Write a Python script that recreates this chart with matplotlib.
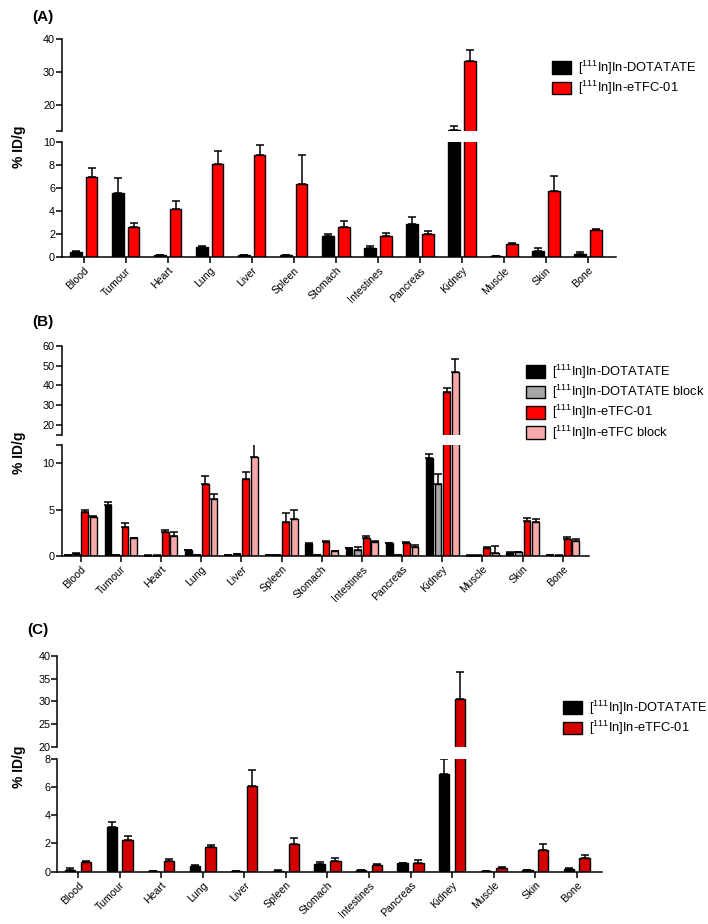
import matplotlib
matplotlib.use("Agg")
import matplotlib.pyplot as plt
import numpy as np
from matplotlib.patches import Patch

plt.rcParams['font.family'] = ['Liberation Sans', 'DejaVu Sans']
plt.rcParams['mathtext.fontset'] = 'custom'
plt.rcParams['mathtext.rm'] = 'Liberation Sans'
plt.rcParams['mathtext.default'] = 'regular'

# 장기 이름 (x축)
organs = ['Blood', 'Tumour', 'Heart', 'Lung', 'Liver', 'Spleen', 'Stomach',
          'Intestines', 'Pancreas', 'Kidney', 'Muscle', 'Skin', 'Bone']

# (A) 데이터
a_dotatate = [0.40, 5.55, 0.15, 0.87, 0.15, 0.15, 1.85, 0.75, 2.90, 12.35, 0.05, 0.52, 0.26]
a_dotatate_err = [0.15, 1.30, 0.05, 0.08, 0.04, 0.04, 0.18, 0.23, 0.60, 1.20, 0.02, 0.23, 0.14]
a_etfc = [6.95, 2.57, 4.15, 8.09, 8.87, 6.32, 2.64, 1.85, 1.97, 33.3, 1.10, 5.74, 2.32]
a_etfc_err = [0.78, 0.36, 0.75, 1.15, 0.90, 2.52, 0.52, 0.26, 0.29, 3.4, 0.15, 1.30, 0.14]

# (B) 데이터
b_dotatate = [0.03, 5.48, 0.02, 0.58, 0.10, 0.05, 1.27, 0.80, 1.35, 10.59, 0.02, 0.30, 0.05]
b_dotatate_err = [0.02, 0.32, 0.01, 0.07, 0.03, 0.02, 0.08, 0.05, 0.06, 0.39, 0.01, 0.05, 0.02]
b_dotatate_block = [0.20, 0.10, 0.02, 0.05, 0.15, 0.05, 0.05, 0.59, 0.05, 7.79, 0.02, 0.35, 0.02]
b_dotatate_block_err = [0.10, 0.03, 0.01, 0.02, 0.04, 0.02, 0.02, 0.39, 0.02, 1.06, 0.01, 0.10, 0.01]
b_etfc = [4.75, 3.08, 2.58, 7.72, 8.34, 3.63, 1.52, 1.89, 1.35, 36.6, 0.80, 3.80, 1.78]
b_etfc_err = [0.25, 0.42, 0.22, 0.87, 0.76, 1.01, 0.08, 0.21, 0.10, 2.0, 0.10, 0.33, 0.22]
b_etfc_block = [4.20, 1.89, 2.17, 6.13, 10.65, 4.02, 0.50, 1.52, 0.98, 46.75, 0.33, 3.63, 1.56]
b_etfc_block_err = [0.10, 0.06, 0.43, 0.54, 1.60, 0.88, 0.05, 0.08, 0.22, 6.45, 0.76, 0.39, 0.22]

# (C) 데이터
c_dotatate = [0.14, 3.20, 0.02, 0.43, 0.05, 0.07, 0.52, 0.12, 0.61, 6.94, 0.02, 0.12, 0.19]
c_dotatate_err = [0.14, 0.33, 0.01, 0.05, 0.02, 0.02, 0.14, 0.03, 0.04, 1.01, 0.01, 0.03, 0.04]
c_etfc = [0.66, 2.22, 0.75, 1.77, 6.05, 1.93, 0.78, 0.45, 0.63, 30.6, 0.28, 1.55, 0.99]
c_etfc_err = [0.09, 0.32, 0.12, 0.14, 1.13, 0.43, 0.21, 0.09, 0.22, 5.96, 0.07, 0.38, 0.21]

lab_dot = r'[$^{111}$In]In-DOTATATE'
lab_dot_blk = r'[$^{111}$In]In-DOTATATE block'
lab_etfc = r'[$^{111}$In]In-eTFC-01'
lab_etfc_blk = r'[$^{111}$In]In-eTFC block'

fig = plt.figure(figsize=(7.08, 9.24), dpi=100)
W, H = 708.0, 924.0


def px_axes(x0, x1, ytop, ybot):
    return fig.add_axes([x0 / W, 1 - ybot / H, (x1 - x0) / W, (ybot - ytop) / H])


def panel(x0, x1, up, lo, series, colors, offsets, width,
          xlim, up_lim, up_ticks, up_labels, lo_lim, lo_ticks, lo_labels):
    ax_up = px_axes(x0, x1, up[0], up[1])
    ax_lo = px_axes(x0, x1, lo[0], lo[1])
    x = np.arange(len(organs))
    for ax in (ax_up, ax_lo):
        for (vals, errs), col, off in zip(series, colors, offsets):
            ax.bar(x + off, vals, width, color=col, edgecolor='black', linewidth=1.0, zorder=2)
            ax.errorbar(x + off, vals, yerr=[np.zeros(len(vals)), errs], fmt='none',
                        ecolor='black', elinewidth=1.1, capsize=2.6, capthick=1.1, zorder=3)
        ax.set_xlim(*xlim)
        ax.spines['top'].set_visible(False)
        ax.spines['right'].set_visible(False)
        ax.spines['left'].set_linewidth(1.1)
        ax.spines['bottom'].set_linewidth(1.1)
        ax.tick_params(axis='y', labelsize=7.8, width=1.1, length=4, pad=1)
    ax_up.set_ylim(*up_lim)
    ax_up.set_yticks(up_ticks)
    ax_up.set_yticklabels(up_labels)
    ax_up.spines['bottom'].set_visible(False)
    ax_up.tick_params(axis='x', bottom=False, labelbottom=False)
    ax_lo.set_ylim(*lo_lim)
    ax_lo.set_yticks(lo_ticks)
    ax_lo.set_yticklabels(lo_labels)
    ax_lo.set_xticks(x)
    ax_lo.set_xticklabels(organs, rotation=45, ha='right', va='top',
                          rotation_mode='anchor', fontsize=7.6)
    ax_lo.tick_params(axis='x', width=1.1, length=4, pad=2)
    return ax_up, ax_lo


# (A)
panel(62, 616, (39, 131.4), (142, 257),
      [(a_dotatate, a_dotatate_err), (a_etfc, a_etfc_err)],
      ['black', '#ff0000'], [-0.19, 0.19], 0.27,
      (-0.52, 12.67), (12, 40), [12, 20, 30, 40], ['', '20', '30', '40'],
      (0, 10), [0, 2, 4, 6, 8, 10], ['0', '2', '4', '6', '8', '10'])

# (B)
panel(61.7, 589, (346, 434.7), (445, 555.7),
      [(b_dotatate, b_dotatate_err), (b_dotatate_block, b_dotatate_block_err),
       (b_etfc, b_etfc_err), (b_etfc_block, b_etfc_block_err)],
      ['black', '#a6a6a6', '#ff0000', '#f7a8a8'],
      [-0.32, -0.107, 0.107, 0.32], 0.17,
      (-0.47, 12.65), (15, 60), [15, 20, 30, 40, 50, 60], ['', '20', '30', '40', '50', '60'],
      (0, 12), [0, 5, 10, 12], ['0', '5', '10', ''])

# (C)
panel(57.3, 601.7, (656, 746.7), (758.7, 871.7),
      [(c_dotatate, c_dotatate_err), (c_etfc, c_etfc_err)],
      ['black', '#d40000'], [-0.19, 0.19], 0.25,
      (-0.5, 12.6), (20, 40), [20, 25, 30, 35, 40], ['20', '25', '30', '35', '40'],
      (0, 8), [0, 2, 4, 6, 8], ['0', '2', '4', '6', '8'])

# 범례
def legend(colors, labels, x, y):
    handles = [Patch(facecolor=c, edgecolor='black', linewidth=1.0) for c in colors]
    fig.legend(handles, labels, loc='upper left', bbox_to_anchor=(x / W, 1 - y / H),
               frameon=False, fontsize=9.3, handlelength=1.45, handleheight=1.15,
               handletextpad=0.6, labelspacing=0.15, borderpad=0, borderaxespad=0)

legend(['black', '#ff0000'], [lab_dot, lab_etfc], 552, 59)
legend(['black', '#a6a6a6', '#ff0000', '#f7a8a8'],
       [lab_dot, lab_dot_blk, lab_etfc, lab_etfc_blk], 526, 363)
legend(['black', '#d40000'], [lab_dot, lab_etfc], 563, 699)

# 패널 라벨, y축 제목
for txt, x, y in [('(A)', 32, 17), ('(B)', 32, 322), ('(C)', 27, 630)]:
    fig.text(x / W, 1 - y / H, txt, fontsize=11, fontweight='bold', ha='left', va='center')
for y in [147, 453, 767]:
    fig.text(19 / W, 1 - y / H, '% ID/g', fontsize=10, fontweight='bold',
             rotation=90, ha='center', va='center')

fig.savefig('out.png', dpi=100)
